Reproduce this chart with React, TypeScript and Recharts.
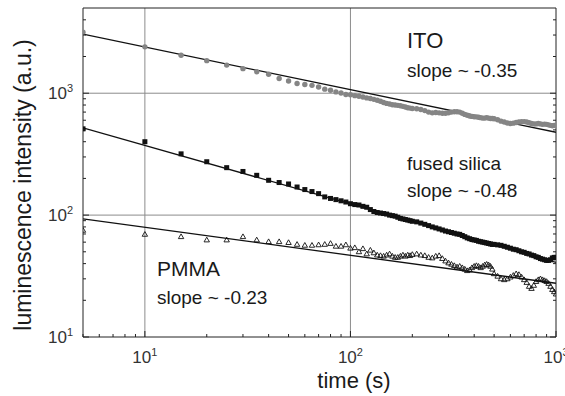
import { ComposedChart, XAxis, YAxis, Scatter, Line, ReferenceLine } from "recharts"

// sampling times (s)
const times = [
  5, 10, 15, 20, 25, 30, 35, 40, 45, 50, 55, 60, 65, 70, 75, 80, 85, 90, 95, 100,
  105, 110, 115, 120, 125, 130, 135, 140, 145, 150, 155, 160, 165, 170, 175, 180, 185, 190, 195, 200,
  210, 220, 230, 240, 250, 260, 270, 280, 290, 300, 310, 320, 330, 340, 350, 360, 370, 380, 390, 400,
  410, 420, 430, 440, 450, 460, 470, 480, 490, 500,
  520, 540, 560, 580, 600, 620, 640, 660, 680, 700, 720, 740, 760, 780, 800, 820, 840, 860, 880, 900,
  920, 940, 960, 980, 1000,
]

const itoValues = [
  3160, 2400, 2050, 1850, 1700, 1590, 1500, 1430, 1320, 1260, 1200, 1180, 1160, 1125, 1080, 1058, 1025, 1005, 975, 970,
  955, 945, 930, 915, 905, 890, 875, 860, 840, 825, 815, 805, 800, 795, 790, 780, 770, 760, 755, 750,
  745, 735, 720, 700, 690, 695, 690, 685, 685, 690, 700, 705, 705, 700, 685, 670, 660, 650, 645, 640,
  640, 635, 630, 625, 625, 630, 625, 620, 620, 618,
  605, 590, 580, 570, 565, 568, 575, 580, 585, 585, 580, 572, 565, 560, 560, 565, 560, 555, 558, 555,
  550, 545, 540, 545, 540,
]

const silicaValues = [
  510, 400, 318, 274, 245, 228, 212, 193, 185, 180, 170, 162, 156, 150, 141, 137, 134, 131, 128, 124,
  122, 121, 118, 116, 111, 107, 105, 104, 103, 102, 100, 99, 98, 96, 94, 93, 92, 91, 90, 89,
  88, 86, 84, 82, 80, 78.5, 77, 75.5, 74, 73, 72, 71, 70, 69.5, 68, 66.5, 65, 64, 63, 62.5,
  62, 61, 60.5, 60, 59.5, 59, 58.5, 58, 57.5, 57.5,
  57, 56.5, 55.5, 54.5, 53.5, 52.5, 52, 51, 50, 49.5, 48.5, 48, 47, 46.5, 45.5, 45, 44, 43.5, 43, 42.5,
  42.5, 43, 44.5, 45, 45,
]

const pmmaValues = [
  75, 69.5, 66.5, 62.5, 62.5, 66.5, 62.5, 60.5, 60.5, 59.5, 57.5, 56.5, 56.5, 57, 57.5, 58.5, 55.5, 55.5, 57, 53.5,
  54, 50, 53, 48, 51.5, 49, 47, 46.5, 46, 47, 48, 46, 45, 45, 46, 47, 46, 47, 46.5, 47.5,
  48, 47, 46.5, 45, 44.5, 46, 46.5, 44, 42, 40.5, 39.5, 38.5, 37.5, 38, 37, 36, 35, 35.5, 37, 38,
  38.5, 38, 37, 38, 39, 39.5, 39, 38, 36, 33,
  31.5, 30, 29.5, 30, 31, 32, 33, 32.5, 31, 29.5, 28, 26, 25, 26.5, 28.5, 29.5, 30, 29.5, 29, 28.5,
  27.5, 26, 24.5, 23.5, 22.5,
]

// power-law fits, end points
const fitTimes = [5, 1000]
const itoFit = [3050, 478]
const silicaFit = [520, 41]
const pmmaFit = [93, 27.6]

const xTicks = [5, 6, 7, 8, 9, 10, 20, 30, 40, 50, 60, 70, 80, 90, 100, 200, 300, 400, 500, 600, 700, 800, 900, 1000]
const yTicks = [10, 20, 30, 40, 50, 60, 70, 80, 90, 100, 200, 300, 400, 500, 600, 700, 800, 900, 1000, 2000, 3000, 4000]
const decades = [10, 100, 1000]
const exponents: Record<number, string> = { 10: "1", 100: "2", 1000: "3" }

const toPoints = (ts: number[], vs: number[]) => ts.map((t, i) => ({ t, v: vs[i] }))

const FONT = '"Liberation Sans", Arial, sans-serif'
const INK = "#222"

function Pow({ x, y, v, anchor }: { x: number; y: number; v: number; anchor: "middle" | "end" }) {
  return (
    <text x={x} y={y} textAnchor={anchor} fontFamily={FONT} fontSize={17} fill="#333">
      <tspan>10</tspan>
      <tspan dy={-7} fontSize={11}>{exponents[v]}</tspan>
    </text>
  )
}

function BottomTick({ x, y, payload }: any) {
  const major = decades.includes(payload.value)
  return (
    <g>
      <line x1={x} x2={x} y1={y} y2={y - (major ? 6 : 3)} stroke={INK} />
      {major && <Pow x={x} y={y + 26} v={payload.value} anchor="middle" />}
    </g>
  )
}

function TopTick({ x, y, payload }: any) {
  const major = decades.includes(payload.value)
  return <line x1={x} x2={x} y1={y} y2={y + (major ? 6 : 3)} stroke={INK} />
}

function LeftTick({ x, y, payload }: any) {
  const major = decades.includes(payload.value)
  return (
    <g>
      <line x1={x} x2={x + (major ? 6 : 3)} y1={y} y2={y} stroke={INK} />
      {major && <Pow x={x - 10} y={y + 6} v={payload.value} anchor="end" />}
    </g>
  )
}

function RightTick({ x, y, payload }: any) {
  const major = decades.includes(payload.value)
  return <line x1={x} x2={x - (major ? 6 : 3)} y1={y} y2={y} stroke={INK} />
}

const Dot = (p: any) => <circle cx={p.cx} cy={p.cy} r={2.7} fill="#858585" />
const Sq = (p: any) => <rect x={p.cx - 2.5} y={p.cy - 2.5} width={5} height={5} fill="#111" />
const Tri = (p: any) => (
  <path
    d={`M${p.cx},${p.cy - 2.8}L${p.cx + 2.7},${p.cy + 1.9}L${p.cx - 2.7},${p.cy + 1.9}Z`}
    fill="none"
    stroke="#111"
    strokeWidth={0.9}
  />
)

const note = { fontFamily: FONT, fill: "#1a1a1a" }

export default function App() {
  return (
    <div style={{ position: "absolute", left: 0, top: 0, width: 565, height: 396, background: "#fff" }}>
      <ComposedChart width={565} height={396} margin={{ top: 0, right: 0, bottom: 0, left: 0 }}>
        <XAxis
          dataKey="t"
          type="number"
          scale="log"
          domain={[5, 1000]}
          allowDataOverflow
          ticks={xTicks}
          interval={0}
          height={59}
          tickSize={0}
          tickMargin={0}
          tickLine={false}
          tick={BottomTick}
          axisLine={{ stroke: INK }}
        />
        <XAxis
          xAxisId="top"
          orientation="top"
          type="number"
          scale="log"
          domain={[5, 1000]}
          allowDataOverflow
          ticks={xTicks}
          interval={0}
          height={8}
          tickSize={0}
          tickMargin={0}
          tickLine={false}
          tick={TopTick}
          axisLine={{ stroke: INK }}
        />
        <YAxis
          dataKey="v"
          type="number"
          scale="log"
          domain={[10, 5000]}
          allowDataOverflow
          ticks={yTicks}
          interval={0}
          width={83}
          tickSize={0}
          tickMargin={0}
          tickLine={false}
          tick={LeftTick}
          axisLine={{ stroke: INK }}
        />
        <YAxis
          yAxisId="right"
          orientation="right"
          type="number"
          scale="log"
          domain={[10, 5000]}
          allowDataOverflow
          ticks={yTicks}
          interval={0}
          width={9}
          tickSize={0}
          tickMargin={0}
          tickLine={false}
          tick={RightTick}
          axisLine={{ stroke: INK }}
        />
        <ReferenceLine x={10} stroke="#8c8c8c" />
        <ReferenceLine x={100} stroke="#8c8c8c" />
        <ReferenceLine y={100} stroke="#8c8c8c" />
        <ReferenceLine y={1000} stroke="#8c8c8c" />

        <Scatter data={toPoints(times, itoValues)} shape={Dot} isAnimationActive={false} />
        <Scatter data={toPoints(times, silicaValues)} shape={Sq} isAnimationActive={false} />
        <Scatter data={toPoints(times, pmmaValues)} shape={Tri} isAnimationActive={false} />

        <Line data={toPoints(fitTimes, itoFit)} dataKey="v" stroke="#111" strokeWidth={1.3} dot={false} isAnimationActive={false} />
        <Line data={toPoints(fitTimes, silicaFit)} dataKey="v" stroke="#111" strokeWidth={1.3} dot={false} isAnimationActive={false} />
        <Line data={toPoints(fitTimes, pmmaFit)} dataKey="v" stroke="#111" strokeWidth={1.3} dot={false} isAnimationActive={false} />

        <text x={407} y={48} fontSize={22} {...note}>ITO</text>
        <text x={407} y={77} fontSize={19} {...note}>slope ~ -0.35</text>
        <text x={407} y={170} fontSize={19} {...note}>fused silica</text>
        <text x={407} y={197} fontSize={19} {...note}>slope ~ -0.48</text>
        <text x={157} y={276} fontSize={21} {...note}>PMMA</text>
        <text x={157} y={304} fontSize={19} {...note}>slope ~ -0.23</text>

        <text x={354} y={388} textAnchor="middle" fontSize={22} {...note}>time (s)</text>
        <text x={31} y={185} textAnchor="middle" fontSize={23} transform="rotate(-90 31 185)" {...note}>
          luminescence intensity (a.u.)
        </text>
      </ComposedChart>
    </div>
  )
}
